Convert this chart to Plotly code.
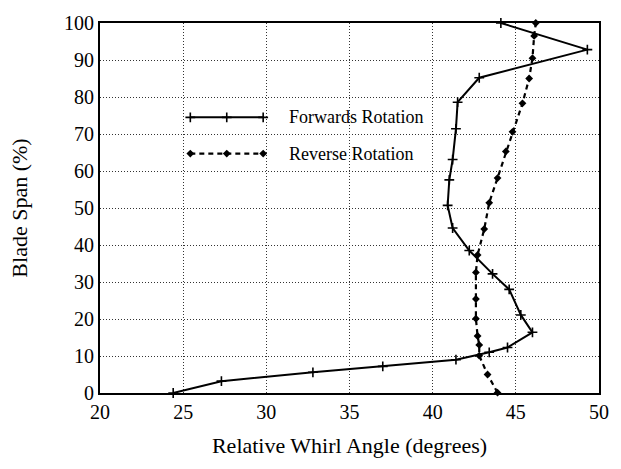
import plotly.graph_objects as go

# Forwards rotation data (bottom to top)
fwd_angle = [24.4, 27.3, 32.8, 37.0, 41.4, 43.4, 44.5, 46.0, 45.3, 44.6, 43.6, 42.2,
             41.2, 40.9, 41.0, 41.2, 41.4, 41.5, 42.8, 49.3, 44.1]
fwd_span = [0.0, 3.2, 5.6, 7.2, 9.0, 11.0, 12.3, 16.4, 21.1, 28.0, 32.2, 38.5,
            44.6, 50.7, 57.6, 63.1, 71.4, 78.6, 85.2, 92.8, 100.0]

# Reverse rotation data (bottom to top)
rev_angle = [43.9, 43.3, 42.8, 42.8, 42.7, 42.6, 42.6, 42.6, 42.7, 43.1, 43.4, 43.9,
             44.4, 44.8, 45.4, 45.8, 46.0, 46.1, 46.2]
rev_span = [0.1, 5.0, 10.1, 13.0, 15.4, 20.1, 25.4, 32.6, 37.3, 44.3, 51.4, 58.1,
            65.3, 70.6, 78.3, 85.0, 90.5, 96.5, 100.0]

x_ticks = [20, 25, 30, 35, 40, 45, 50]
y_ticks = [0, 10, 20, 30, 40, 50, 60, 70, 80, 90, 100]

series_names = ["Forwards Rotation", "Reverse Rotation"]

FONT = "Liberation Serif"

fwd_line = dict(color="black", width=2)
fwd_marker = dict(symbol="cross-thin-open", size=7, line=dict(color="black", width=1.6))
rev_line = dict(color="black", width=2.2, dash="5px,4px")
rev_marker = dict(symbol="diamond", size=6, color="black")

fig = go.Figure()

fig.add_trace(go.Scatter(
    x=fwd_angle, y=fwd_span, mode="lines+markers", name=series_names[0],
    line=fwd_line, marker=fwd_marker, cliponaxis=False, showlegend=False))

fig.add_trace(go.Scatter(
    x=rev_angle, y=rev_span, mode="lines+markers", name=series_names[1],
    line=rev_line, marker=rev_marker, cliponaxis=False, showlegend=False))

# Legend keys drawn on an overlay axis in fractional coordinates
leg_x = [0.181, 0.254, 0.327]
fig.add_trace(go.Scatter(
    x=leg_x, y=[0.745] * 3, xaxis="x2", yaxis="y2", mode="lines+markers",
    line=fwd_line, marker=fwd_marker, showlegend=False, hoverinfo="skip"))
fig.add_trace(go.Scatter(
    x=leg_x, y=[0.647] * 3, xaxis="x2", yaxis="y2", mode="lines+markers",
    line=rev_line, marker=rev_marker, showlegend=False, hoverinfo="skip"))

for name, yy in zip(series_names, [0.745, 0.647]):
    fig.add_annotation(x=0.374, y=yy, xref="x2", yref="y2", text=name,
                       showarrow=False, xanchor="left", yanchor="middle",
                       font=dict(family=FONT, size=18, color="black"))

grid = dict(showgrid=True, gridcolor="#333", gridwidth=1, griddash="1px,2px",
            showline=True, linecolor="black", linewidth=2, mirror=True,
            zeroline=False, ticks="")

fig.update_layout(
    width=621, height=469,
    margin=dict(l=100, r=13, t=16, b=76),
    paper_bgcolor="white", plot_bgcolor="white",
    font=dict(family=FONT, color="black"),
    xaxis=dict(range=[20, 50], tickvals=x_ticks, ticktext=[str(v) for v in x_ticks],
               tickfont=dict(size=20, family=FONT),
               title=dict(text="Relative Whirl Angle (degrees)",
                          font=dict(size=22, family=FONT), standoff=16),
               **grid),
    yaxis=dict(range=[0, 100], tickvals=y_ticks, ticktext=[str(v) for v in y_ticks],
               tickfont=dict(size=20, family=FONT),
               title=dict(text="Blade Span (%)", font=dict(size=22, family=FONT),
                          standoff=30),
               **grid),
    xaxis2=dict(range=[0, 1], overlaying="x", visible=False, fixedrange=True),
    yaxis2=dict(range=[0, 1], overlaying="y", visible=False, fixedrange=True),
)

fig.write_html("out.html")
